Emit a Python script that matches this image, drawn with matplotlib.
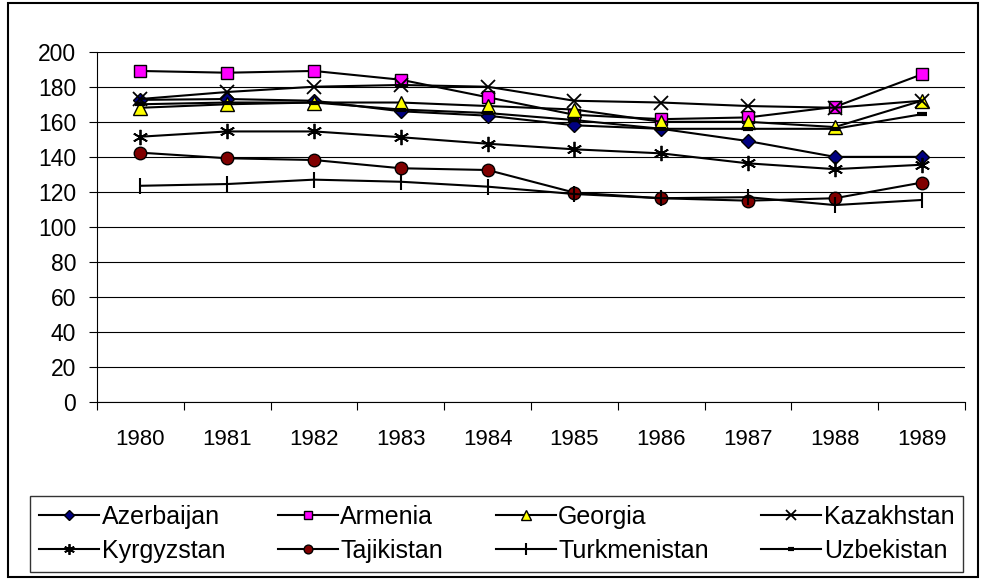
import matplotlib.pyplot as plt
import numpy as np
from matplotlib.patches import Rectangle
from matplotlib.ticker import FixedLocator, NullFormatter

plt.rcParams["font.family"] = ["Liberation Sans", "DejaVu Sans"]

years = ["1980", "1981", "1982", "1983", "1984", "1985", "1986", "1987", "1988", "1989"]

azerbaijan = [172.5, 173, 172, 166, 163.5, 158, 156, 149, 140, 140]
armenia = [189, 188, 189, 184, 174, 164, 161.5, 162.5, 168.5, 187]
georgia = [168, 170, 171, 171, 169, 167, 160, 160, 157, 172]
kazakhstan = [173, 177, 180, 181, 180, 172, 171, 169, 168, 172]
kyrgyzstan = [151.5, 154.5, 154.5, 151.2, 147.5, 144.3, 142, 136.3, 133, 135.5]
tajikistan = [142.4, 139.2, 138.2, 133.5, 132.5, 119.6, 116.4, 115, 116.4, 125.3]
turkmenistan = [123.5, 124.5, 127, 125.8, 123, 118.8, 116.4, 117, 112.5, 115.4]
uzbekistan = [170, 171, 171, 167, 165, 161, 156, 156, 156, 164.3]

series = [
    ("Azerbaijan", azerbaijan, dict(marker="D", markersize=7, markerfacecolor="#000080")),
    ("Armenia", armenia, dict(marker="s", markersize=9, markerfacecolor="#FF00FF")),
    ("Georgia", georgia, dict(marker="^", markersize=10, markerfacecolor="#FFFF00")),
    ("Kazakhstan", kazakhstan, dict(marker="x", markersize=10, markeredgewidth=1.3)),
    ("Kyrgyzstan", kyrgyzstan, dict(marker=(6, 2, 0), markersize=11, markeredgewidth=1.3)),
    ("Tajikistan", tajikistan, dict(marker="o", markersize=9, markerfacecolor="#800000")),
    ("Turkmenistan", turkmenistan, dict(marker="|", markersize=12, markeredgewidth=1.5)),
    ("Uzbekistan", uzbekistan, dict(marker="_", markersize=7, markeredgewidth=3)),
]

fig = plt.figure(figsize=(9.82, 5.8), dpi=100)
ax = fig.add_axes([0.0988, 0.3064, 0.8839, 0.6045])

x = np.arange(len(years))
handles = {}
for name, vals, style in series:
    (h,) = ax.plot(x, vals, color="black", linewidth=1.5, markeredgecolor="black",
                   label=name, zorder=3, **style)
    handles[name] = h

ax.set_ylim(0, 200)
ax.set_xlim(-0.5, len(years) - 0.5)
ax.set_yticks(np.arange(0, 201, 20))
ax.yaxis.grid(True, color="black", linewidth=0.8)
ax.set_axisbelow(True)

ax.set_xticks(x)
ax.set_xticklabels(years)
ax.xaxis.set_minor_locator(FixedLocator(np.arange(-0.5, len(years), 1.0)))
ax.xaxis.set_minor_formatter(NullFormatter())
ax.tick_params(axis="x", which="major", length=0, pad=19, labelsize=16)
ax.tick_params(axis="x", which="minor", length=6, width=0.8, direction="out")
ax.tick_params(axis="y", length=6, width=0.8, direction="out", pad=9, labelsize=16.5)

for side in ("top", "right"):
    ax.spines[side].set_visible(False)
ax.spines["left"].set_linewidth(0.8)
ax.spines["bottom"].set_linewidth(0.8)

# legend is filled column by column, so interleave to get the row order
order = ["Azerbaijan", "Kyrgyzstan", "Armenia", "Tajikistan",
         "Georgia", "Turkmenistan", "Kazakhstan", "Uzbekistan"]
leg = fig.legend([handles[n] for n in order], order, ncol=4, mode="expand",
                 bbox_to_anchor=(0.031, 0.014, 0.95, 0.141), loc="lower left",
                 fontsize=18, frameon=True, fancybox=False, edgecolor="black",
                 handlelength=2.4, handletextpad=0.1, borderaxespad=0,
                 markerscale=0.7, labelspacing=0.4, borderpad=0.35)
leg.get_frame().set_linewidth(1.0)

fig.patches.append(Rectangle((8 / 982, 3 / 580), 970 / 982, 574 / 580,
                             transform=fig.transFigure, fill=False,
                             edgecolor="black", linewidth=1.5))

fig.savefig("out.png", dpi=100, facecolor="white")
